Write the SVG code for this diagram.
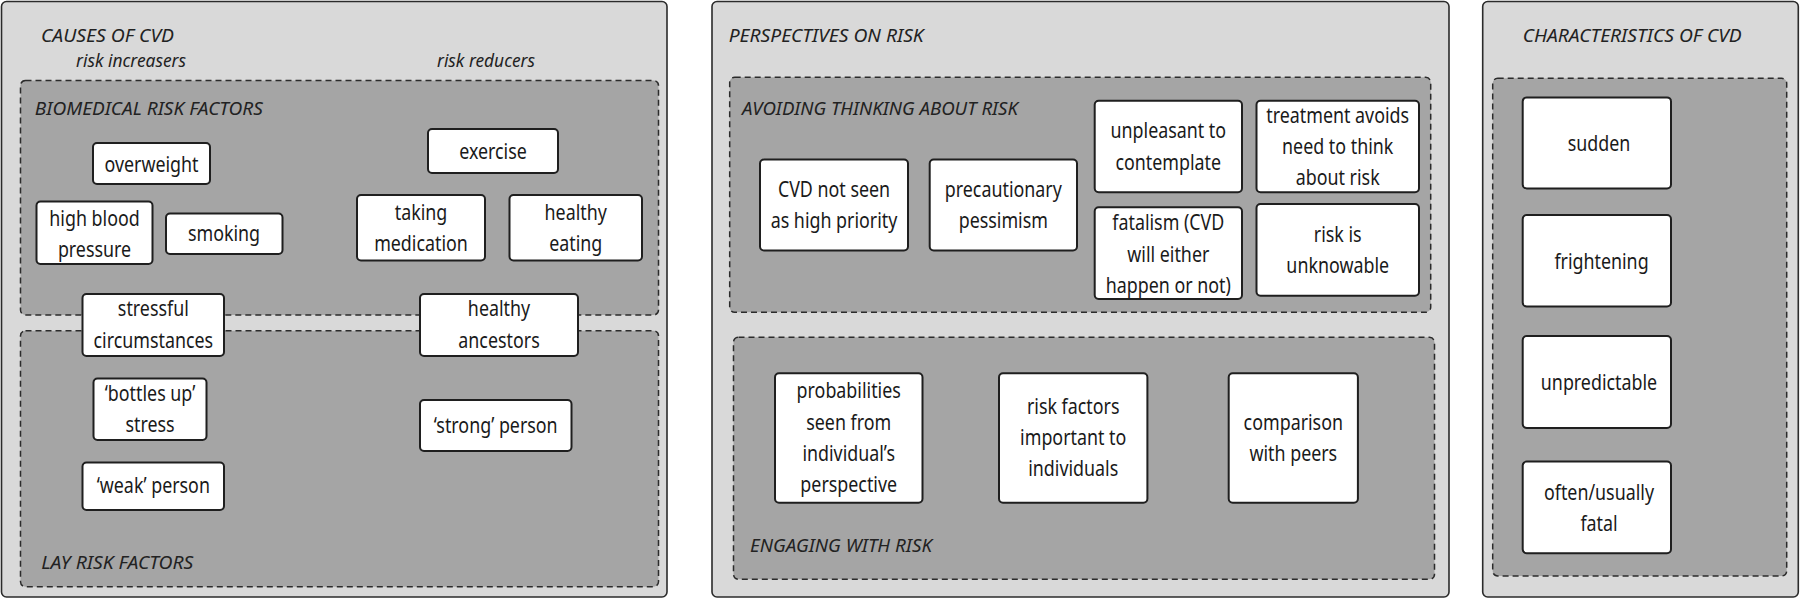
<svg xmlns="http://www.w3.org/2000/svg" width="1800" height="599" viewBox="0 0 1800 599">
<style>
.panel{fill:#d9d9d9;stroke:#2b2b2b;stroke-width:1.6}
.zone{fill:#a5a5a5;stroke:#2b2b2b;stroke-width:1.5;stroke-dasharray:6 4}
.box{fill:#ffffff;stroke:#1f1f1f;stroke-width:2}
.h{font-family:"Noto Sans","Liberation Sans",sans-serif;font-style:italic;font-size:18.5px;fill:#222}
.t{font-family:"Noto Sans","Liberation Sans",sans-serif;font-size:21.5px;fill:#1a1a1a;text-anchor:middle}
</style>
<rect width="1800" height="599" fill="#ffffff"/>

<g id="panel-causes">
<rect class="panel" x="1.5" y="1.5" width="665.5" height="595.5" rx="5"/>
<text class="h" x="41" y="41.7" textLength="133" lengthAdjust="spacingAndGlyphs">CAUSES OF CVD</text>
<text class="h" x="76" y="66.7" textLength="110" lengthAdjust="spacingAndGlyphs">risk increasers</text>
<text class="h" x="437" y="66.7" textLength="98" lengthAdjust="spacingAndGlyphs">risk reducers</text>
</g>
<g id="zone-biomedical">
<rect class="zone" x="20.5" y="80.5" width="638" height="234.5" rx="5"/>
<text class="h" x="34.8" y="115" textLength="228" lengthAdjust="spacingAndGlyphs">BIOMEDICAL RISK FACTORS</text>
</g>
<g id="zone-lay">
<rect class="zone" x="20.5" y="330.7" width="638" height="256" rx="5"/>
<text class="h" x="41.3" y="569.3" textLength="152" lengthAdjust="spacingAndGlyphs">LAY RISK FACTORS</text>
</g>

<g id="panel-perspectives">
<rect class="panel" x="712" y="1.5" width="737" height="595.5" rx="5"/>
<text class="h" x="728.7" y="41.7" textLength="195" lengthAdjust="spacingAndGlyphs">PERSPECTIVES ON RISK</text>
</g>
<g id="zone-avoiding">
<rect class="zone" x="729.7" y="77.3" width="701" height="235" rx="5"/>
<text class="h" x="742" y="115" textLength="276" lengthAdjust="spacingAndGlyphs">AVOIDING THINKING ABOUT RISK</text>
</g>
<g id="zone-engaging">
<rect class="zone" x="733.5" y="337.3" width="701" height="242" rx="5"/>
<text class="h" x="750" y="551.7" textLength="182" lengthAdjust="spacingAndGlyphs">ENGAGING WITH RISK</text>
</g>

<g id="panel-characteristics">
<rect class="panel" x="1482.7" y="1.5" width="315.6" height="595.5" rx="5"/>
<text class="h" x="1522.7" y="42" textLength="219" lengthAdjust="spacingAndGlyphs">CHARACTERISTICS OF CVD</text>
</g>
<g id="zone-characteristics">
<rect class="zone" x="1492.7" y="78.3" width="294" height="497.6" rx="5"/>
</g>

<g id="connectors"></g>

<g id="n-overweight"><rect class="box" x="93" y="143" width="117" height="41" rx="4"/>
<text class="t" transform="translate(151.5,0) scale(0.83,1)"><tspan x="0" y="172">overweight</tspan></text></g>
<g id="n-high-blood-pressure"><rect class="box" x="36.5" y="201.5" width="116" height="62.5" rx="4"/>
<text class="t" transform="translate(94.5,0) scale(0.83,1)"><tspan x="0" y="226">high blood</tspan><tspan x="0" y="257">pressure</tspan></text></g>
<g id="n-smoking"><rect class="box" x="166" y="213.5" width="116.5" height="40.5" rx="4"/>
<text class="t" transform="translate(224,0) scale(0.83,1)"><tspan x="0" y="241.5">smoking</tspan></text></g>
<g id="n-exercise"><rect class="box" x="428" y="129" width="130" height="44" rx="4"/>
<text class="t" transform="translate(493,0) scale(0.83,1)"><tspan x="0" y="159.5">exercise</tspan></text></g>
<g id="n-taking-medication"><rect class="box" x="357" y="195" width="128" height="65.5" rx="4"/>
<text class="t" transform="translate(421,0) scale(0.83,1)"><tspan x="0" y="220">taking</tspan><tspan x="0" y="251.5">medication</tspan></text></g>
<g id="n-healthy-eating"><rect class="box" x="509.5" y="195" width="132.5" height="65.5" rx="4"/>
<text class="t" transform="translate(575.7,0) scale(0.83,1)"><tspan x="0" y="220">healthy</tspan><tspan x="0" y="251.5">eating</tspan></text></g>
<g id="n-stressful-circumstances"><rect class="box" x="82.5" y="294" width="141.5" height="62" rx="4"/>
<text class="t" transform="translate(153.3,0) scale(0.83,1)"><tspan x="0" y="316.5">stressful</tspan><tspan x="0" y="348">circumstances</tspan></text></g>
<g id="n-healthy-ancestors"><rect class="box" x="420" y="294" width="158" height="62" rx="4"/>
<text class="t" transform="translate(499,0) scale(0.83,1)"><tspan x="0" y="316.5">healthy</tspan><tspan x="0" y="348">ancestors</tspan></text></g>
<g id="n-bottles-up-stress"><rect class="box" x="93.5" y="378.5" width="113" height="61.5" rx="4"/>
<text class="t" transform="translate(150,0) scale(0.83,1)"><tspan x="0" y="401">‘bottles up’</tspan><tspan x="0" y="432.5">stress</tspan></text></g>
<g id="n-strong-person"><rect class="box" x="420" y="400" width="151.5" height="51" rx="4"/>
<text class="t" transform="translate(495.7,0) scale(0.83,1)"><tspan x="0" y="433">‘strong’ person</tspan></text></g>
<g id="n-weak-person"><rect class="box" x="82.5" y="462.5" width="141.5" height="47.5" rx="4"/>
<text class="t" transform="translate(153.3,0) scale(0.83,1)"><tspan x="0" y="493">‘weak’ person</tspan></text></g>

<g id="n-cvd-not-seen"><rect class="box" x="760" y="159.5" width="148" height="91" rx="4"/>
<text class="t" transform="translate(834,0) scale(0.83,1)"><tspan x="0" y="197.3">CVD not seen</tspan><tspan x="0" y="228.3">as high priority</tspan></text></g>
<g id="n-precautionary-pessimism"><rect class="box" x="929.7" y="159.5" width="147.3" height="91" rx="4"/>
<text class="t" transform="translate(1003.3,0) scale(0.83,1)"><tspan x="0" y="197">precautionary</tspan><tspan x="0" y="228.3">pessimism</tspan></text></g>
<g id="n-unpleasant"><rect class="box" x="1094.7" y="100.7" width="147.3" height="91.6" rx="4"/>
<text class="t" transform="translate(1168.3,0) scale(0.83,1)"><tspan x="0" y="138.3">unpleasant to</tspan><tspan x="0" y="170">contemplate</tspan></text></g>
<g id="n-treatment-avoids"><rect class="box" x="1256.5" y="100.7" width="162.5" height="91.6" rx="4"/>
<text class="t" transform="translate(1337.7,0) scale(0.83,1)"><tspan x="0" y="122.7">treatment avoids</tspan><tspan x="0" y="154">need to think</tspan><tspan x="0" y="185">about risk</tspan></text></g>
<g id="n-fatalism"><rect class="box" x="1094.7" y="207.3" width="147.3" height="91.7" rx="4"/>
<text class="t" transform="translate(1168.3,0) scale(0.83,1)"><tspan x="0" y="230">fatalism (CVD</tspan><tspan x="0" y="261.7">will either</tspan><tspan x="0" y="292.7">happen or not)</tspan></text></g>
<g id="n-risk-unknowable"><rect class="box" x="1256.5" y="204" width="162.5" height="91.7" rx="4"/>
<text class="t" transform="translate(1337.7,0) scale(0.83,1)"><tspan x="0" y="241.7">risk is</tspan><tspan x="0" y="272.7">unknowable</tspan></text></g>
<g id="n-probabilities"><rect class="box" x="775" y="373.3" width="147.5" height="129.4" rx="4"/>
<text class="t" transform="translate(848.7,0) scale(0.83,1)"><tspan x="0" y="398.3">probabilities</tspan><tspan x="0" y="430">seen from</tspan><tspan x="0" y="461">individual’s</tspan><tspan x="0" y="491.7">perspective</tspan></text></g>
<g id="n-risk-factors-important"><rect class="box" x="999" y="373.3" width="148.4" height="129.4" rx="4"/>
<text class="t" transform="translate(1073.2,0) scale(0.83,1)"><tspan x="0" y="414">risk factors</tspan><tspan x="0" y="445">important to</tspan><tspan x="0" y="476">individuals</tspan></text></g>
<g id="n-comparison-peers"><rect class="box" x="1228.7" y="373.3" width="129.2" height="129.4" rx="4"/>
<text class="t" transform="translate(1293.3,0) scale(0.83,1)"><tspan x="0" y="430">comparison</tspan><tspan x="0" y="460.7">with peers</tspan></text></g>

<g id="n-sudden"><rect class="box" x="1522.7" y="97.4" width="148.3" height="91" rx="4"/>
<text class="t" transform="translate(1599,0) scale(0.83,1)"><tspan x="0" y="151">sudden</tspan></text></g>
<g id="n-frightening"><rect class="box" x="1522.7" y="215" width="148.3" height="91.5" rx="4"/>
<text class="t" transform="translate(1601.5,0) scale(0.83,1)"><tspan x="0" y="269.4">frightening</tspan></text></g>
<g id="n-unpredictable"><rect class="box" x="1522.7" y="336" width="148.3" height="92" rx="4"/>
<text class="t" transform="translate(1599,0) scale(0.83,1)"><tspan x="0" y="389.8">unpredictable</tspan></text></g>
<g id="n-often-fatal"><rect class="box" x="1522.7" y="461.6" width="148.3" height="91.7" rx="4"/>
<text class="t" transform="translate(1599,0) scale(0.83,1)"><tspan x="0" y="499.8">often/usually</tspan><tspan x="0" y="531">fatal</tspan></text></g>
</svg>
